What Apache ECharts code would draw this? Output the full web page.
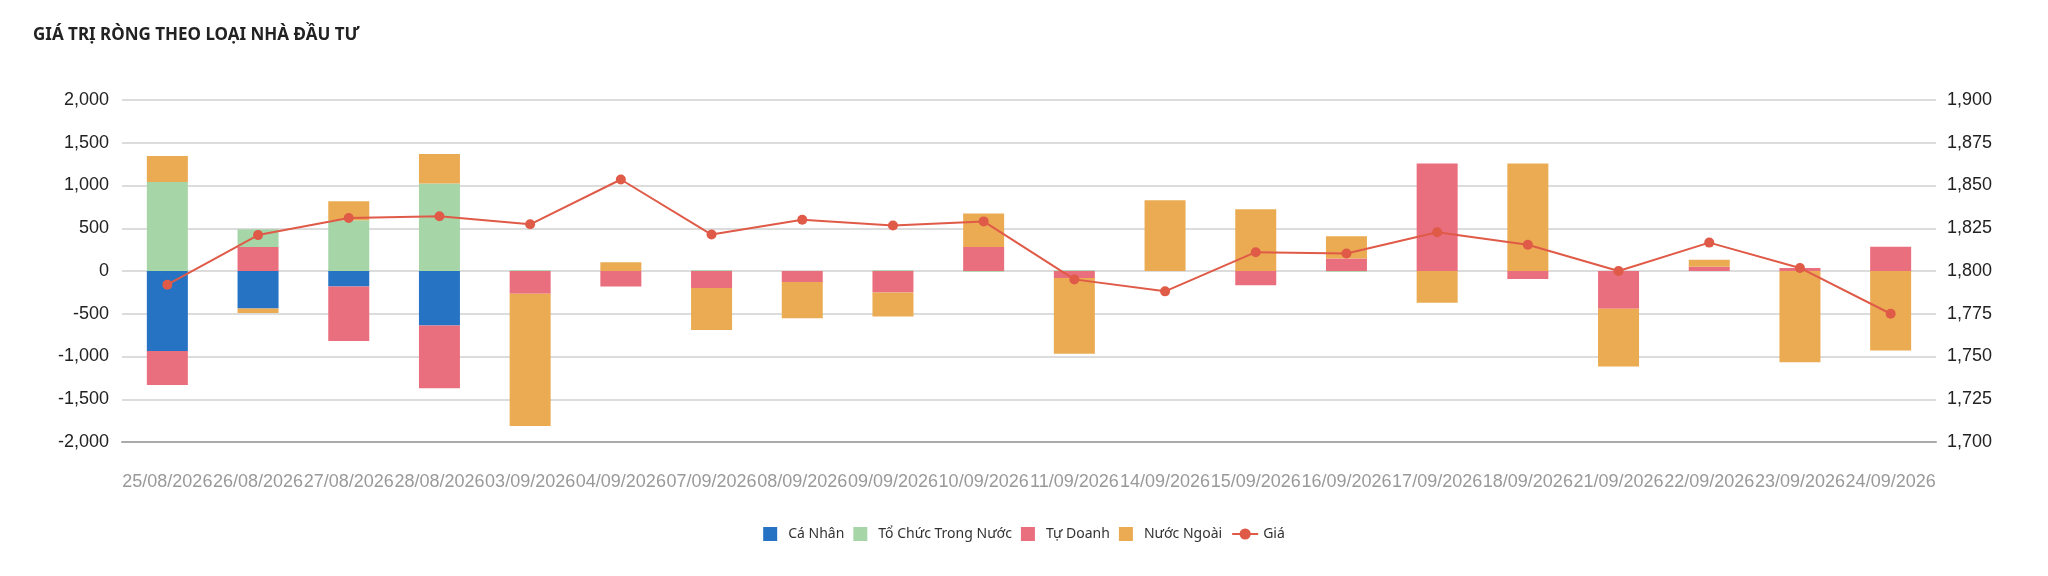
<!DOCTYPE html>
<html>
<head>
<meta charset="utf-8">
<title>Giá trị ròng theo loại nhà đầu tư</title>
<script src="https://cdn.jsdelivr.net/npm/echarts@6/dist/echarts.min.js"></script>
<style>
	html, body { margin: 0; padding: 0; background: #fff; }
	#main { width: 2048px; height: 576px; }
</style>
</head>
<body>
<div id="main"></div>
<script>
// ngày giao dịch
var dates = ['25/08/2026', '26/08/2026', '27/08/2026', '28/08/2026', '03/09/2026',
	'04/09/2026', '07/09/2026', '08/09/2026', '09/09/2026', '10/09/2026',
	'11/09/2026', '14/09/2026', '15/09/2026', '16/09/2026', '17/09/2026',
	'18/09/2026', '21/09/2026', '22/09/2026', '23/09/2026', '24/09/2026'];

// giá trị ròng theo nhóm nhà đầu tư
var caNhan    = [-935, -440, -180, -637, 0, 0, 0, 0, 0, 0, 0, 0, 0, 0, 0, 0, 0, 0, 0, 0];
var toChuc    = [1040, 207, 594, 1023, 8, 0, 8, 0, 8, -8, 8, 0, 0, -8, 0, 0, 0, 0, 0, 0];
var tuDoanh   = [-398, 281, -640, -734, -266, -180, -200, -130, -250, 281, -82, 0, -168, 145, 1258, -94, -441, 50, 35, 285];
var nuocNgoai = [304, -51, 222, 344, -1547, 102, -489, -422, -281, 391, -887, 828, 723, 261, -371, 1258, -676, 83, -1066, -930];

// giá (trục phải)
var gia = [1792, 1821, 1831, 1832, 1827.3, 1853.5, 1821.3, 1830, 1826.6, 1829,
	1795.1, 1788.1, 1811, 1810.2, 1822.7, 1815.4, 1800, 1816.6, 1801.8, 1775];

var squareIcon = 'path://M0,0L10,0L10,10L0,10Z';
var fmt = function (v) { return v.toLocaleString('en-US'); };

var myChart = echarts.init(document.getElementById('main'));

function barSeries(name, color, data) {
	return {
		name: name,
		type: 'bar',
		stack: 'tong',
		barWidth: 41,
		itemStyle: { color: color },
		data: data
	};
}

var axisText = {
	fontFamily: 'Liberation Sans',
	fontSize: 18,
	color: '#222'
};

myChart.setOption({
	animation: false,
	title: {
		text: 'GIÁ TRỊ RÒNG THEO LOẠI NHÀ ĐẦU TƯ',
		left: 28,
		top: 22,
		textStyle: {
			fontFamily: 'Noto Sans',
			fontWeight: 'bold',
			fontSize: 17,
			color: '#222'
		}
	},
	legend: {
		bottom: 30,
		left: 'center',
		itemWidth: 26,
		itemHeight: 14,
		itemGap: 9,
		data: [
			{ name: 'Cá Nhân', icon: squareIcon },
			{ name: 'Tổ Chức Trong Nước', icon: squareIcon },
			{ name: 'Tự Doanh', icon: squareIcon },
			{ name: 'Nước Ngoài', icon: squareIcon },
			{ name: 'Giá' }
		],
		textStyle: {
			fontFamily: 'Noto Sans',
			fontSize: 14,
			color: '#333'
		}
	},
	grid: {
		left: 122,
		right: 112,
		top: 100,
		bottom: 134
	},
	xAxis: {
		type: 'category',
		data: dates,
		axisLine: { onZero: false, lineStyle: { color: '#aaa', width: 2 } },
		axisTick: { show: false },
		axisLabel: {
			interval: 0,
			margin: 31,
			fontFamily: 'Liberation Sans',
			fontSize: 18,
			color: '#999'
		}
	},
	yAxis: [
		{
			type: 'value',
			min: -2000,
			max: 2000,
			interval: 500,
			axisLine: { show: false },
			axisTick: { show: false },
			splitLine: { lineStyle: { color: '#dcdcdc', width: 2 } },
			axisLabel: Object.assign({ margin: 13, formatter: fmt }, axisText)
		},
		{
			type: 'value',
			min: 1700,
			max: 1900,
			interval: 25,
			axisLine: { show: false },
			axisTick: { show: false },
			splitLine: { show: false },
			axisLabel: Object.assign({ margin: 11, formatter: fmt }, axisText)
		}
	],
	series: [
		// Tự Doanh xếp ngay sau Cá Nhân, giống hình gốc
		barSeries('Cá Nhân', '#2673c4', caNhan),
		barSeries('Tự Doanh', '#ea6f7e', tuDoanh),
		barSeries('Tổ Chức Trong Nước', '#a6d6a8', toChuc),
		barSeries('Nước Ngoài', '#ebab52', nuocNgoai),
		{
			name: 'Giá',
			type: 'line',
			yAxisIndex: 1,
			symbol: 'circle',
			symbolSize: 10,
			z: 5,
			lineStyle: { color: '#e05a48', width: 2 },
			itemStyle: { color: '#e05a48' },
			data: gia
		}
	]
});
</script>
</body>
</html>
